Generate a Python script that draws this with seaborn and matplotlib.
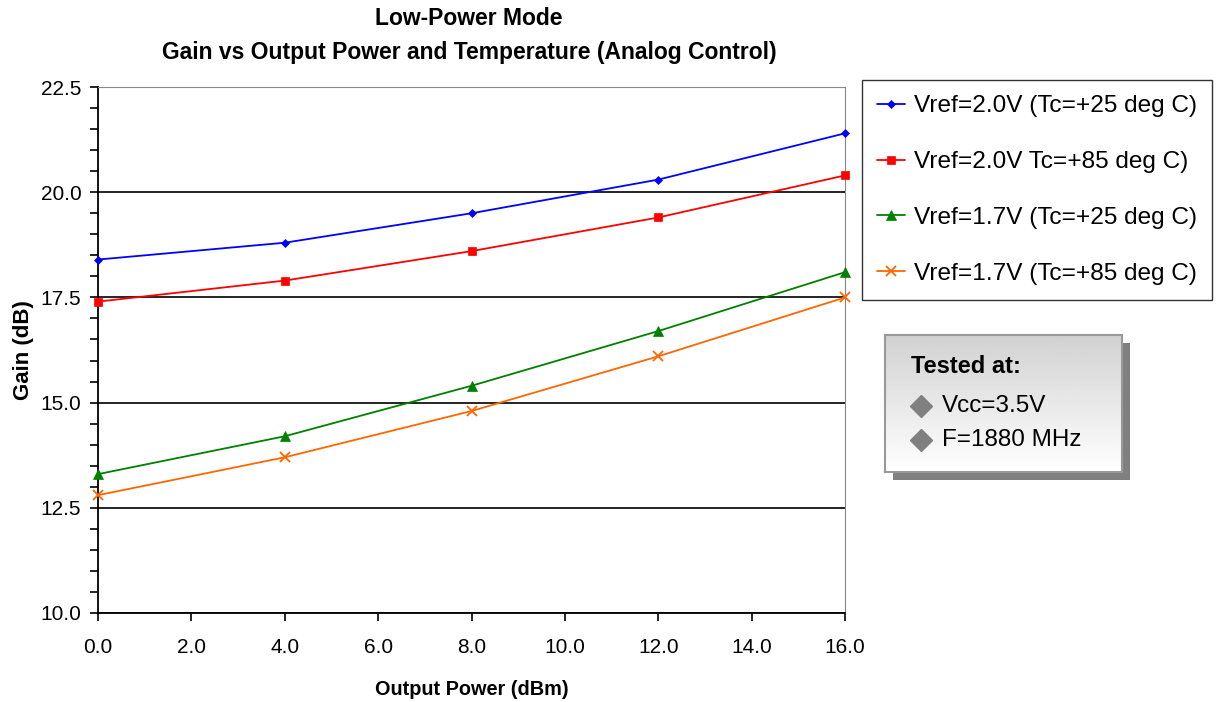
import matplotlib
matplotlib.use("Agg")
import matplotlib.pyplot as plt
from matplotlib.patches import Rectangle
from matplotlib.ticker import MultipleLocator, FormatStrFormatter
import numpy as np
import pandas as pd
import seaborn as sns

## Data ##
output_power = [0, 4, 8, 12, 16]
gain_20_25 = [18.4, 18.8, 19.5, 20.3, 21.4]
gain_20_85 = [17.4, 17.9, 18.6, 19.4, 20.4]
gain_17_25 = [13.3, 14.2, 15.4, 16.7, 18.1]
gain_17_85 = [12.8, 13.7, 14.8, 16.1, 17.5]
series_names = ["Vref=2.0V (Tc=+25 deg C)", "Vref=2.0V Tc=+85 deg C)",
                "Vref=1.7V (Tc=+25 deg C)", "Vref=1.7V (Tc=+85 deg C)"]
series_colors = ["#0000FF", "#FF0000", "#008000", "#FF6600"]
series_markers = ["D", "s", "^", "x"]
marker_sizes = [4.5, 6, 6.5, 7]

df = pd.DataFrame({"power": output_power * 4,
                   "gain": gain_20_25 + gain_20_85 + gain_17_25 + gain_17_85,
                   "series": [n for n in series_names for _ in output_power]})

sns.set_style("white")
plt.rcParams["font.family"] = ["Liberation Sans", "DejaVu Sans"]
plt.rcParams["text.color"] = "black"
plt.rcParams["axes.labelcolor"] = "black"
plt.rcParams["xtick.color"] = "black"
plt.rcParams["ytick.color"] = "black"

fig = plt.figure(figsize=(12.22, 7.02), dpi=100)
ax = fig.add_axes([0.0802, 0.1268, 0.6113, 0.7492])

for name, col, mk, ms in zip(series_names, series_colors, series_markers, marker_sizes):
    sub = df[df["series"] == name]
    sns.lineplot(data=sub, x="power", y="gain", ax=ax, color=col, marker=mk,
                 markersize=ms, markeredgecolor=col, markeredgewidth=1.3 if mk == "x" else 0.5,
                 linewidth=1.3, label=name, legend=False, clip_on=False, zorder=5)

ax.set_xlim(0, 16)
ax.set_ylim(10, 22.5)
ax.xaxis.set_major_locator(MultipleLocator(2))
ax.yaxis.set_major_locator(MultipleLocator(2.5))
ax.yaxis.set_minor_locator(MultipleLocator(0.5))
ax.xaxis.set_major_formatter(FormatStrFormatter("%.1f"))
ax.yaxis.set_major_formatter(FormatStrFormatter("%.1f"))
ax.tick_params(axis="both", which="both", direction="out", length=6, width=1.2,
               color="black", labelsize=15, left=True, bottom=True)
ax.tick_params(axis="x", pad=12)
ax.tick_params(axis="y", pad=6)
ax.grid(axis="y", which="major", color="black", linewidth=1.2)
ax.grid(axis="x", visible=False)

for s in ["left", "bottom"]:
    ax.spines[s].set_color("black")
    ax.spines[s].set_linewidth(1.3)
ax.spines["right"].set_color("#888888")
ax.spines["top"].set_color("#888888")

ax.set_xlabel("Output Power (dBm)", fontsize=14.3, fontweight="bold")
ax.xaxis.set_label_coords(0.5, -0.127)
ax.set_ylabel("Gain (dB)", fontsize=16, fontweight="bold")
ax.yaxis.set_label_coords(-0.086, 0.5)

fig.text(0.384, 0.950, "Low-Power Mode\nGain vs Output Power and Temperature (Analog Control)",
         ha="center", va="center", fontsize=16.5, fontweight="bold", linespacing=1.6)

## Legend ##
handles, labels = ax.get_legend_handles_labels()
leg = fig.legend(handles, labels, loc="upper left", bbox_to_anchor=(0.7055, 0.886),
                 fontsize=17.6, frameon=True, fancybox=False, edgecolor="black",
                 handlelength=1.15, handletextpad=0.35, labelspacing=1.38,
                 borderpad=0.62, borderaxespad=0)
leg.get_frame().set_linewidth(1.0)

## "Tested at" box with shadow and gradient ##
bx, by, bw, bh = 885 / 1222, 1 - 472 / 702, 237 / 1222, 137 / 702
fig.patches.append(Rectangle((bx + 0.0065, by - 0.0115), bw, bh, transform=fig.transFigure,
                             facecolor="#808080", edgecolor="none", zorder=1))
box = fig.add_axes([bx, by, bw, bh], zorder=2)
shade = np.linspace(0.82, 1.0, 100).reshape(-1, 1)
box.imshow(shade, cmap="gray", vmin=0, vmax=1, aspect="auto", extent=[0, 1, 0, 1])
box.set_xticks([])
box.set_yticks([])
for s in box.spines.values():
    s.set_color("#999999")
    s.set_linewidth(1.5)
box.text(0.11, 0.77, "Tested at:", fontsize=17, fontweight="bold", va="center")
box.plot([0.15, 0.15], [0.48, 0.23], linestyle="none", marker="D", markersize=11, color="#808080")
box.text(0.24, 0.48, "Vcc=3.5V", fontsize=17.5, va="center")
box.text(0.24, 0.23, "F=1880 MHz", fontsize=17.5, va="center")
box.set_xlim(0, 1)
box.set_ylim(0, 1)

fig.savefig("out.png", dpi=100)
